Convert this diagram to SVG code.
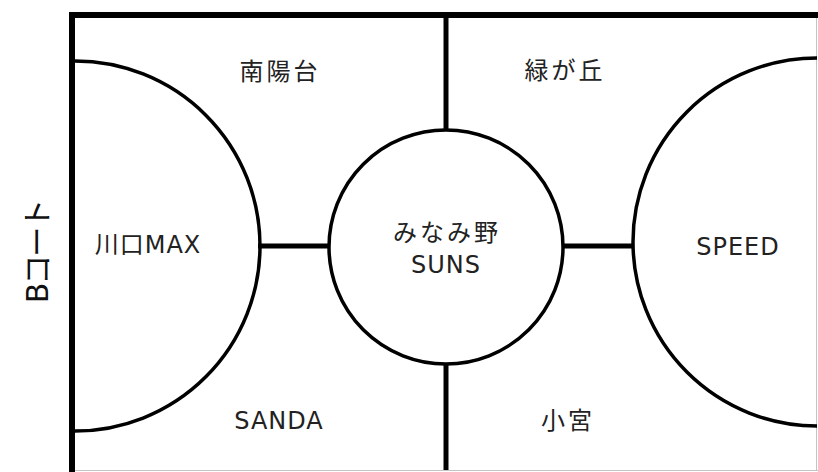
<svg xmlns="http://www.w3.org/2000/svg" width="818" height="472" viewBox="0 0 818 472">
  <style>
    .frame { stroke: #000; stroke-width: 6; fill: none; }
    .edge { stroke: #c4c4c4; stroke-width: 1; fill: none; }
    .arc { stroke: #000; stroke-width: 3.5; fill: none; }
    .conn { stroke: #000; stroke-width: 5; fill: none; }
    .lbl { font-family: "DejaVu Sans", "Noto Sans CJK JP", sans-serif; font-size: 24px; fill: #222; text-anchor: middle; letter-spacing: 1px; }
    .cjk { font-family: "Noto Sans CJK JP", sans-serif; font-size: 24px; letter-spacing: 3px; }
    .title { font-family: "DejaVu Sans", "Noto Sans CJK JP", sans-serif; font-size: 30px; fill: #111; text-anchor: middle; letter-spacing: -2px; }
  </style>
  <rect width="818" height="472" fill="#fff"/>

  <g id="court">
    <line class="edge" x1="75" y1="470.5" x2="818" y2="470.5"/>
    <line class="edge" x1="816.5" y1="18" x2="816.5" y2="471"/>
    <line class="frame" x1="69" y1="15" x2="818" y2="15"/>
    <line class="frame" x1="72" y1="12" x2="72" y2="472"/>
    <text class="title" transform="translate(48,252) rotate(-90)">Bコート</text>
  </g>

  <g id="connectors">
    <line class="conn" x1="446" y1="18" x2="446" y2="130"/>
    <line class="conn" x1="446" y1="364" x2="446" y2="470"/>
    <line class="conn" x1="258" y1="246" x2="329" y2="246"/>
    <line class="conn" x1="563" y1="246" x2="633" y2="246"/>
  </g>

  <g id="node-kawaguchi">
    <path class="arc" d="M 75 61 A 185 185 0 0 1 75 431"/>
    <text class="lbl" x="148" y="253">川口MAX</text>
  </g>

  <g id="node-minamino">
    <circle class="arc" cx="446" cy="247" r="117"/>
    <text class="lbl cjk" x="447" y="241">みなみ野</text>
    <text class="lbl" x="446" y="273">SUNS</text>
  </g>

  <g id="node-speed">
    <path class="arc" d="M 817 58 A 184 184 0 0 0 817 426"/>
    <text class="lbl" x="738" y="255">SPEED</text>
  </g>

  <g id="area-nanyodai">
    <text class="lbl cjk" x="280" y="80">南陽台</text>
  </g>
  <g id="area-midorigaoka">
    <text class="lbl cjk" x="565" y="79">緑が丘</text>
  </g>
  <g id="area-sanda">
    <text class="lbl" x="279" y="429">SANDA</text>
  </g>
  <g id="area-komiya">
    <text class="lbl cjk" x="568" y="429">小宮</text>
  </g>
</svg>
